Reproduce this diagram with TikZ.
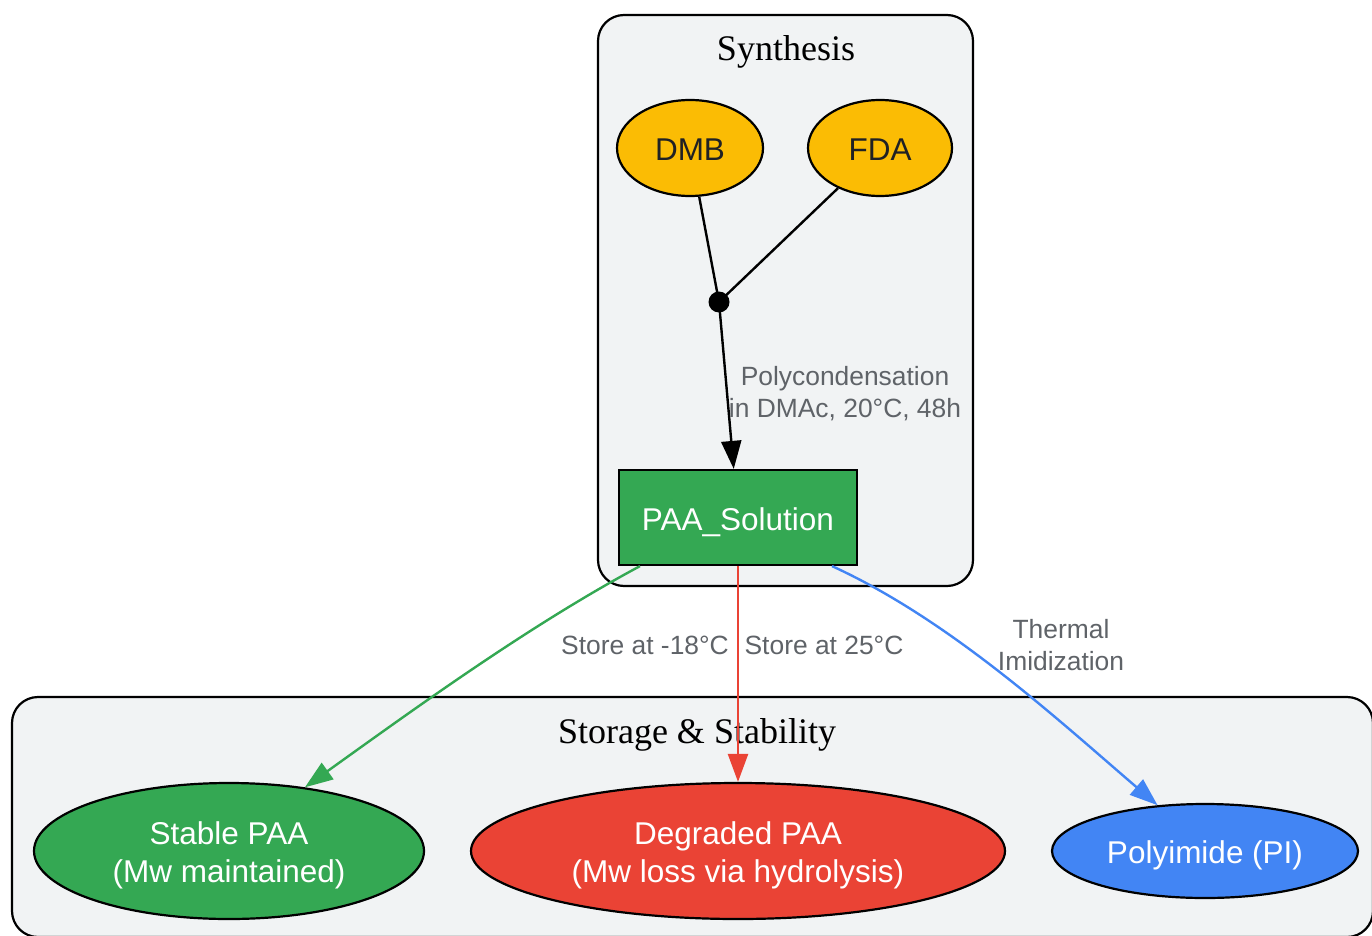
\documentclass[tikz,border=0pt]{standalone}
\usepackage{fontspec}
\setmainfont{Liberation Sans}
\newfontfamily\titlefont{Liberation Serif}
\usetikzlibrary{shapes.geometric,arrows.meta,calc}
\definecolor{gyellow}{HTML}{FBBC04}
\definecolor{ggreen}{HTML}{34A853}
\definecolor{gred}{HTML}{EA4335}
\definecolor{gblue}{HTML}{4285F4}
\definecolor{clfill}{HTML}{F1F3F4}
\definecolor{lblgray}{HTML}{5F6368}
\definecolor{darktext}{HTML}{202124}
\tikzset{
  cluster/.style={draw=black, fill=clfill, line width=2.2pt, rounded corners=26pt},
  cltitle/.style={font=\titlefont\fontsize{36}{40}\selectfont, text=black},
  nodebase/.style={draw=black, line width=2.2pt, inner sep=0pt, align=center,
    font=\fontsize{31.5}{38}\selectfont},
  oneline/.style={text height=26.5pt, text depth=1pt},
  twoline/.style={text height=65.5pt, text depth=3pt},
  yelnode/.style={nodebase, oneline, ellipse, fill=gyellow, text=darktext},
  grnnode/.style={nodebase, twoline, ellipse, fill=ggreen, text=white},
  rednode/.style={nodebase, twoline, ellipse, fill=gred, text=white},
  blunode/.style={nodebase, oneline, ellipse, fill=gblue, text=white},
  boxnode/.style={nodebase, oneline, rectangle, fill=ggreen, text=white},
  elabel/.style={font=\fontsize{26.4}{32}\selectfont, text=lblgray, align=center},
  edge/.style={line width=2.4pt},
  tip/.style={-{Triangle[length=28pt,width=20pt]}},
}
\begin{document}
\begin{tikzpicture}[x=1pt,y=-1pt]
\useasboundingbox (0,0) rectangle (1372,936);
\clip (0,0) rectangle (1372,936);
\fill[white] (0,0) rectangle (1372,936);
% clusters
\draw[cluster] (598,15) rectangle (973,586);
\node[cltitle] (syntitle) at (786,52) {Synthesis};
\draw[cluster] (12,697) rectangle (1373,937);
\node[cltitle] (stotitle) at (697,735) {Storage \& Stability};
% nodes
\node[yelnode, minimum width=146pt, minimum height=96pt] (dmb) at (690,148) {DMB};
\node[yelnode, minimum width=144pt, minimum height=96pt] (fda) at (880,148) {FDA};
\node[circle, fill=black, inner sep=0pt, minimum size=21pt] (junc) at (719,302) {};
\node[boxnode, minimum width=238pt, minimum height=95pt] (paa) at (738,517.5) {PAA\_Solution};
\node[grnnode, minimum width=390pt, minimum height=136pt] (stable) at (229,851) {Stable PAA\\(Mw maintained)};
\node[rednode, minimum width=534pt, minimum height=136pt] (degr) at (738,851) {Degraded PAA\\(Mw loss via hydrolysis)};
\node[blunode, minimum width=306pt, minimum height=94pt] (pi) at (1205,851) {Polyimide (PI)};
% edges
\draw[edge] (dmb) -- (junc.center);
\draw[edge] (fda) -- (junc.center);
\draw[edge, tip] (junc.center) -- (paa);
\node[elabel] (lpoly) at (845,394) {Polycondensation\\in DMAc, 20°C, 48h};
\coordinate (gstart) at ($(paa.south)+(-98,0)$);
\coordinate (bstart) at ($(paa.south)+(94,0)$);
\draw[edge, ggreen, tip] (gstart) .. controls (530,625) and (417,707) .. (stable.40);
\draw[edge, gred, tip] (paa.south) -- (degr.north);
\draw[edge, gblue, tip] (bstart) .. controls (950,620) and (1057,719) .. (pi.136);
\node[elabel] (lcold) at (645,645) {Store at -18°C};
\node[elabel] (lwarm) at (824,645) {Store at 25°C};
\node[elabel] (lther) at (1061,645) {Thermal\\Imidization};
\end{tikzpicture}
\end{document}
